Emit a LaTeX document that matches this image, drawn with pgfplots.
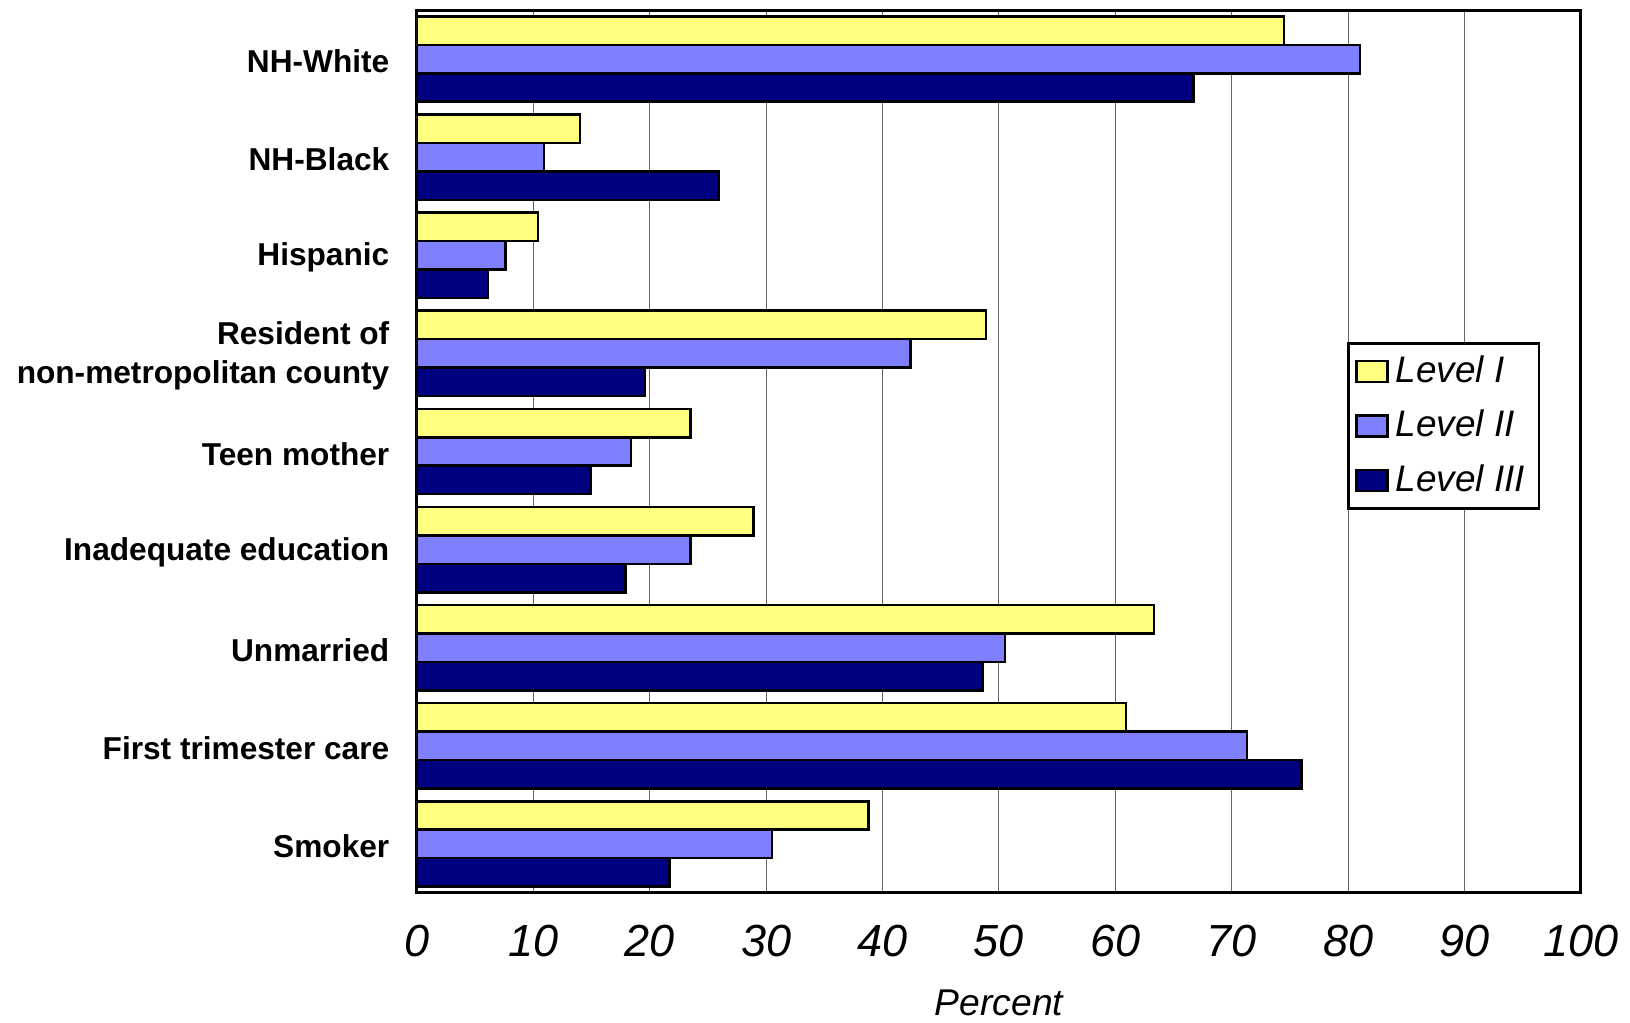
\documentclass[border=0pt]{standalone}
\usepackage{fontspec}
\setmainfont{Liberation Sans}
\usepackage{pgfplots}
\usepackage{pgfplotstable}
\pgfplotsset{compat=1.18}
\usetikzlibrary{calc}

\definecolor{levelI}{RGB}{255,255,128}
\definecolor{levelII}{RGB}{128,128,255}
\definecolor{levelIII}{RGB}{0,0,128}

% Percent of births by characteristic and hospital level
\pgfplotstableread{
cat I    II   III
0   74.5 81.0 66.7
1   14.0 10.9 25.9
2   10.4 7.6  6.1
3   48.9 42.4 19.6
4   23.5 18.4 14.9
5   28.9 23.5 17.9
6   63.3 50.5 48.6
7   60.9 71.3 76.0
8   38.8 30.5 21.7
}\datatable

\begin{document}
\begin{tikzpicture}
\begin{axis}[
  name=ax,
  scale only axis,
  width=116.4mm, height=88.3mm,
  xbar, bar width=0.29,
  xmin=0, xmax=100, xtick={0,10,...,100},
  ymin=-0.5, ymax=8.5, y dir=reverse,
  ytick={0,...,8},
  yticklabels={NH-White, NH-Black, Hispanic, {Resident of\\non-metropolitan county}, Teen mother, Inadequate education, Unmarried, First trimester care, Smoker},
  major tick length=0pt,
  xmajorgrids,
  grid style={black!60, line width=0.1mm},
  axis line style={black, line width=0.3mm},
  /pgf/number format/assume math mode=true,
  xticklabel style={font=\fontsize{12.8}{15}\selectfont\itshape, anchor=base, inner sep=0pt, yshift=-6.4mm},
  yticklabel style={font=\fontsize{9}{10.9}\selectfont\bfseries, align=right, anchor=east, inner sep=0pt, xshift=-2.7mm, yshift=-0.25mm},
  xlabel={Percent},
  xlabel style={font=\fontsize{10.6}{12}\selectfont\itshape, at={(axis description cs:0.5,0)}, anchor=base, inner sep=0pt, yshift=-12.3mm},
  legend style={at={(0.799,0.624)}, anchor=north west, draw=black, line width=0.25mm,
    font=\fontsize{10.5}{12}\selectfont\itshape, inner xsep=0.7mm, inner ysep=0.5mm, row sep=0.85mm},
  legend cell align=left,
  legend image code/.code={\draw[#1, line width=0.25mm] (0mm,-1.05mm) rectangle (3.1mm,1.05mm);},
]
\addplot[fill=levelI, draw=black, line width=0.25mm, bar shift=-0.29] table[x=I, y=cat] {\datatable};
\addplot[fill=levelII, draw=black, line width=0.25mm, bar shift=0] table[x=II, y=cat] {\datatable};
\addplot[fill=levelIII, draw=black, line width=0.25mm, bar shift=0.29] table[x=III, y=cat] {\datatable};
\legend{Level I, Level II, Level III}
\end{axis}
\pgfresetboundingbox
\path[use as bounding box] ($(ax.south west)+(-41.7mm,-13mm)$) rectangle ($(ax.north east)+(4.9mm,1mm)$);
\end{tikzpicture}
\end{document}
